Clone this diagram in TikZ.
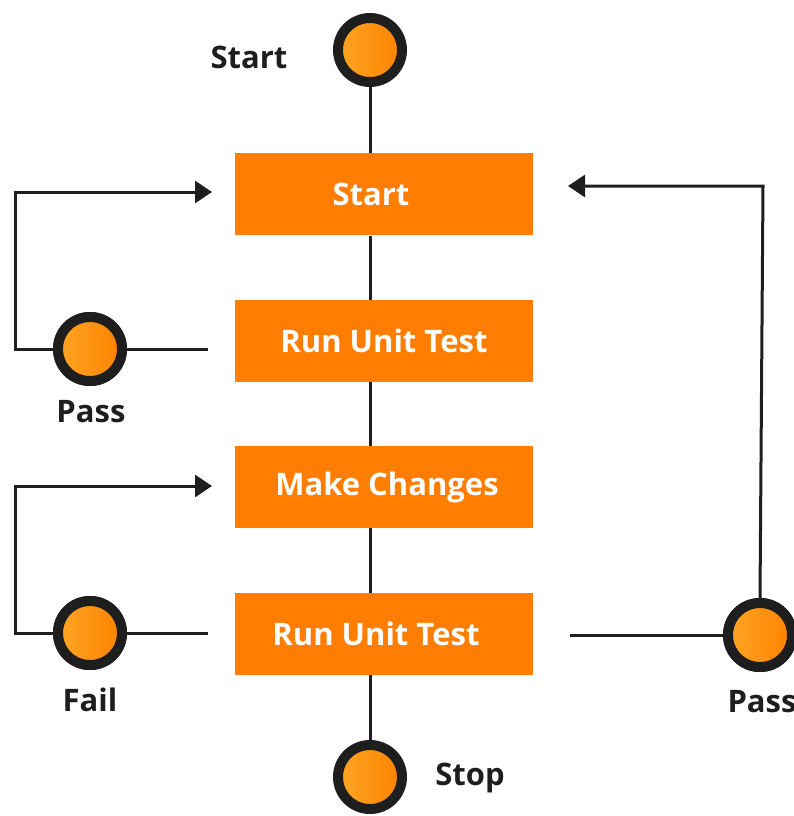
\documentclass[tikz,border=0pt]{standalone}
\usepackage{fontspec}
\setmainfont{Open Sans}
\usetikzlibrary{arrows.meta}
\definecolor{boxor}{HTML}{FF7D00}
\definecolor{ink}{HTML}{1E1E1E}
\definecolor{dotlight}{HTML}{FFA524}
\definecolor{dotdark}{HTML}{FF8200}
\tikzset{
  stepbox/.style={fill=boxor, draw=none, minimum width=298pt, minimum height=82pt, inner sep=0pt,
     text=white, font=\fontsize{31}{34}\selectfont\bfseries},
  dot/.style={circle, draw=ink, line width=10pt, left color=dotlight, right color=dotdark,
     minimum size=64pt, inner sep=0pt},
  lbl/.style={text=ink, font=\fontsize{31}{34}\selectfont\bfseries},
  conn/.style={draw=ink, line width=3pt},
  arr/.style={conn, -{Triangle[length=17pt,width=22pt]}}
}
\begin{document}
\begin{tikzpicture}[x=1pt,y=-1pt]
\useasboundingbox (0,0) rectangle (794,816);
\clip (0,0) rectangle (794,816);
% boxes
\node[stepbox] (b1) at (384,194) {\hspace*{-26pt}Start};
\node[stepbox] (b2) at (384,341) {Run Unit Test};
\node[stepbox] (b3) at (384,487) {\hspace*{6pt}Make Changes};
\node[stepbox] (b4) at (384,634) {\hspace*{-16pt}Run Unit Test};
% circles
\node[dot] (c0) at (370,50) {};
\node[dot] (cp) at (90,349) {};
\node[dot] (cf) at (90,633) {};
\node[dot] (cr) at (760,635) {};
\node[dot] (cs) at (370,777) {};
% labels
\node[lbl] (l0) at (249,57) {Start};
\node[lbl] (lp) at (91,412) {Pass};
\node[lbl] (lf) at (90,700) {Fail};
\node[lbl] (lr) at (762,702) {Pass};
\node[lbl] (ls) at (470,778) {Stop};
% central line
\draw[conn] (c0) -- (370,153);
\draw[conn] (370,236) -- (370,300);
\draw[conn] (370,382) -- (370,446);
\draw[conn] (370,528) -- (370,593);
\draw[conn] (370,675) -- (cs);
% left loop 1
\coordinate (p1) at (208,349);
\coordinate (a1) at (212,192);
\draw[conn] (p1) -- (cp);
\draw[arr] (cp.west) -- (15,349) -- (15,192) -- (a1);
% left loop 2
\coordinate (p2) at (208,633);
\coordinate (a2) at (212,486);
\draw[conn] (p2) -- (cf);
\draw[arr] (cf.west) -- (15,633) -- (15,486) -- (a2);
% right loop
\coordinate (p3) at (570,635);
\coordinate (a3) at (568,186);
\draw[conn] (p3) -- (cr);
\draw[arr] (cr.north) -- (763,186) -- (a3);
% redraw dots above lines
\node[dot] at (cp) {};
\node[dot] at (cf) {};
\node[dot] at (cr) {};
\end{tikzpicture}
\end{document}
